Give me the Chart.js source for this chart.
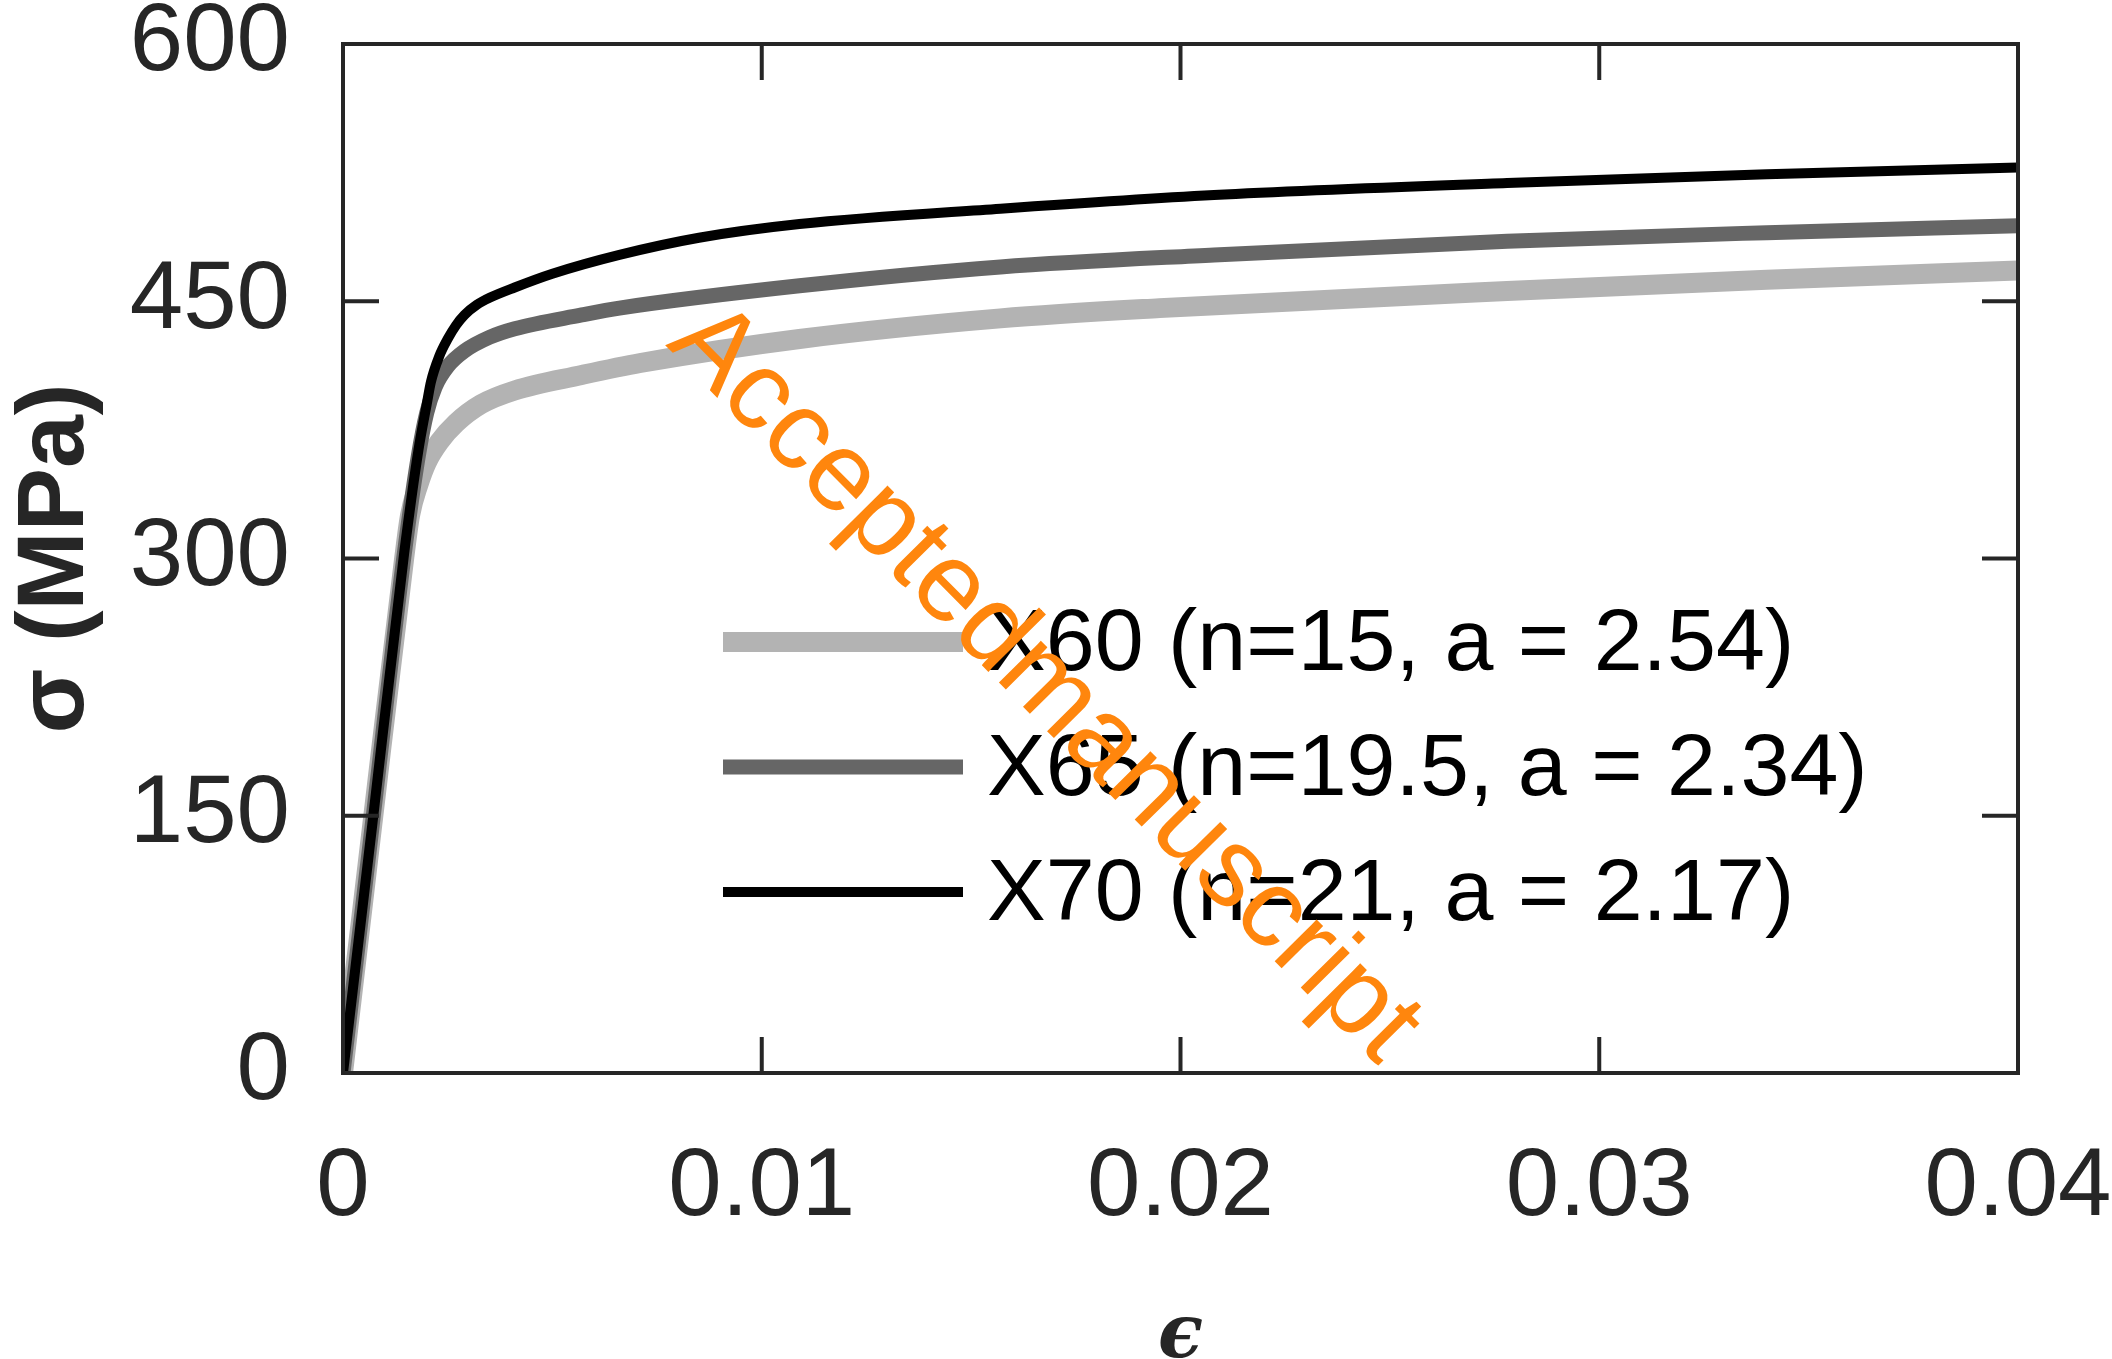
<!DOCTYPE html>
<html>
<head>
<meta charset="utf-8">
<script src="https://cdn.jsdelivr.net/npm/chart.js@4.4.0/dist/chart.umd.min.js"></script>
<style>
  html, body { margin: 0; padding: 0; background: #fff; }
  canvas { display: block; }
</style>
</head>
<body>
<canvas id="stressStrainChart" width="2112" height="1359"></canvas>
<script>
// strain (-) and stress (MPa)
const strainX60 = [0, 0.0007, 0.00146, 0.0016, 0.0018, 0.0020, 0.0023, 0.0027, 0.0033, 0.0041, 0.0057, 0.0071, 0.0109, 0.0157, 0.0195, 0.0278, 0.034, 0.040];
const stressX60 = [0, 145, 300, 325, 343, 356, 368, 379, 390, 398, 407, 414, 428, 440, 446, 456, 462.5, 468];

const strainX65 = [0, 0.0007, 0.00146, 0.0018, 0.0020, 0.0022, 0.0025, 0.0029, 0.0035, 0.0041, 0.0057, 0.0066, 0.0109, 0.0157, 0.0208, 0.0278, 0.034, 0.040];
const stressX65 = [0, 145, 302, 360, 385, 400, 412, 421, 429, 434, 442, 446, 459, 470, 477, 485, 490, 494];

const strainX70 = [0, 0.0007, 0.00146, 0.0018, 0.0020, 0.0021, 0.0023, 0.0025, 0.0027, 0.0029, 0.0032, 0.0035, 0.0041, 0.0050, 0.0066, 0.0085, 0.0109, 0.0157, 0.0208, 0.0278, 0.034, 0.040];
const stressX70 = [0, 145, 303, 363, 390, 403, 418, 428, 436, 442, 448, 452, 458, 466, 477, 487, 495, 504, 512, 519, 524, 528];

const seriesLabels = ['X60 (n=15, a = 2.54)', 'X65 (n=19.5, a = 2.34)', 'X70 (n=21, a = 2.17)'];
const xTicks = [0, 0.01, 0.02, 0.03, 0.04];
const yTicks = [0, 150, 300, 450, 600];

const axisColor = '#262626';
const sans = "'Liberation Sans', Arial, Helvetica, sans-serif";

function toPoints(xs, ys) {
  return xs.map((x, i) => ({ x: x, y: ys[i] }));
}

// box round the plot with inward ticks on all four sides
const frameTicks = {
  id: 'frameTicks',
  afterDatasetsDraw(chart) {
    const { ctx, chartArea: a, scales: { x, y } } = chart;
    const len = 36;
    ctx.save();
    ctx.strokeStyle = axisColor;
    ctx.lineWidth = 4;
    ctx.beginPath();
    x.ticks.forEach(t => {
      const px = x.getPixelForValue(t.value);
      ctx.moveTo(px, a.bottom); ctx.lineTo(px, a.bottom - len);
      ctx.moveTo(px, a.top); ctx.lineTo(px, a.top + len);
    });
    y.ticks.forEach(t => {
      const py = y.getPixelForValue(t.value);
      ctx.moveTo(a.left, py); ctx.lineTo(a.left + len, py);
      ctx.moveTo(a.right, py); ctx.lineTo(a.right - len, py);
    });
    ctx.stroke();
    ctx.strokeRect(a.left, a.top, a.right - a.left, a.bottom - a.top);
    ctx.restore();
  }
};

// legend sits inside the axes, lower middle
const insideLegend = {
  id: 'insideLegend',
  afterDatasetsDraw(chart) {
    const { ctx, chartArea: a } = chart;
    const left = a.left + 380;
    const sampleLen = 240;
    const firstRow = a.top + 598;
    const rowStep = 125;
    ctx.save();
    ctx.font = '88px ' + sans;
    ctx.textBaseline = 'middle';
    ctx.textAlign = 'left';
    chart.data.datasets.forEach((ds, i) => {
      const yy = firstRow + i * rowStep;
      ctx.strokeStyle = ds.borderColor;
      ctx.lineWidth = ds.borderWidth;
      ctx.beginPath();
      ctx.moveTo(left, yy);
      ctx.lineTo(left + sampleLen, yy);
      ctx.stroke();
      ctx.fillStyle = '#000';
      ctx.fillText(ds.label, left + sampleLen + 24, yy + 4);
    });
    ctx.restore();
  }
};

// orange diagonal stamp over the plot
const stamp = {
  id: 'stamp',
  afterDraw(chart) {
    const { ctx, chartArea: a } = chart;
    ctx.save();
    ctx.translate(a.left + 322, a.top + 301);
    ctx.rotate(45.3 * Math.PI / 180);
    ctx.font = '112px ' + sans;
    ctx.fillStyle = '#ff860d';
    ctx.textBaseline = 'alphabetic';
    ctx.fillText('Acceptedmanuscript', 0, 0);
    ctx.restore();
  }
};

const lineStyle = { showLine: true, pointRadius: 0, fill: false, cubicInterpolationMode: 'monotone' };

// order: lower number is painted last, so X70 ends up on top
new Chart(document.getElementById('stressStrainChart'), {
  type: 'scatter',
  data: {
    datasets: [
      Object.assign({ label: seriesLabels[0], data: toPoints(strainX60, stressX60), borderColor: '#b3b3b3', borderWidth: 20, order: 3 }, lineStyle),
      Object.assign({ label: seriesLabels[1], data: toPoints(strainX65, stressX65), borderColor: '#666666', borderWidth: 15, order: 2 }, lineStyle),
      Object.assign({ label: seriesLabels[2], data: toPoints(strainX70, stressX70), borderColor: '#000000', borderWidth: 10, order: 1 }, lineStyle)
    ]
  },
  options: {
    responsive: false,
    animation: false,
    layout: { padding: { top: 44, right: 94, left: 0, bottom: 0 } },
    plugins: {
      legend: { display: false },
      tooltip: { enabled: false }
    },
    scales: {
      x: {
        type: 'linear',
        min: 0,
        max: 0.04,
        afterBuildTicks: s => { s.ticks = xTicks.map(v => ({ value: v })); },
        afterFit: s => { s.height = 286; s.paddingLeft = 0; s.paddingRight = 0; },
        grid: { display: false, drawTicks: false },
        border: { display: false },
        ticks: {
          color: axisColor,
          padding: 58,
          maxRotation: 0,
          font: { family: sans, size: 96 },
          callback: v => v === 0 ? '0' : v.toFixed(2)
        },
        title: {
          display: true,
          text: 'ϵ',
          color: axisColor,
          font: { family: "'DejaVu Serif', serif", size: 74, weight: 'bold', style: 'italic', lineHeight: 0.56 },
          padding: { top: 0, bottom: 0 }
        }
      },
      y: {
        type: 'linear',
        min: 0,
        max: 600,
        afterBuildTicks: s => { s.ticks = yTicks.map(v => ({ value: v })); },
        afterFit: s => { s.width = 343; s.paddingTop = 0; s.paddingBottom = 0; },
        grid: { display: false, drawTicks: false },
        border: { display: false },
        ticks: {
          color: axisColor,
          padding: 53,
          font: { family: sans, size: 96, lineHeight: 0.85 }
        },
        title: {
          display: true,
          text: 'σ (MPa)',
          color: axisColor,
          font: { family: sans, size: 95, weight: 'bold' },
          padding: { top: 0, bottom: 0 }
        }
      }
    }
  },
  plugins: [frameTicks, insideLegend, stamp]
});
</script>
</body>
</html>
